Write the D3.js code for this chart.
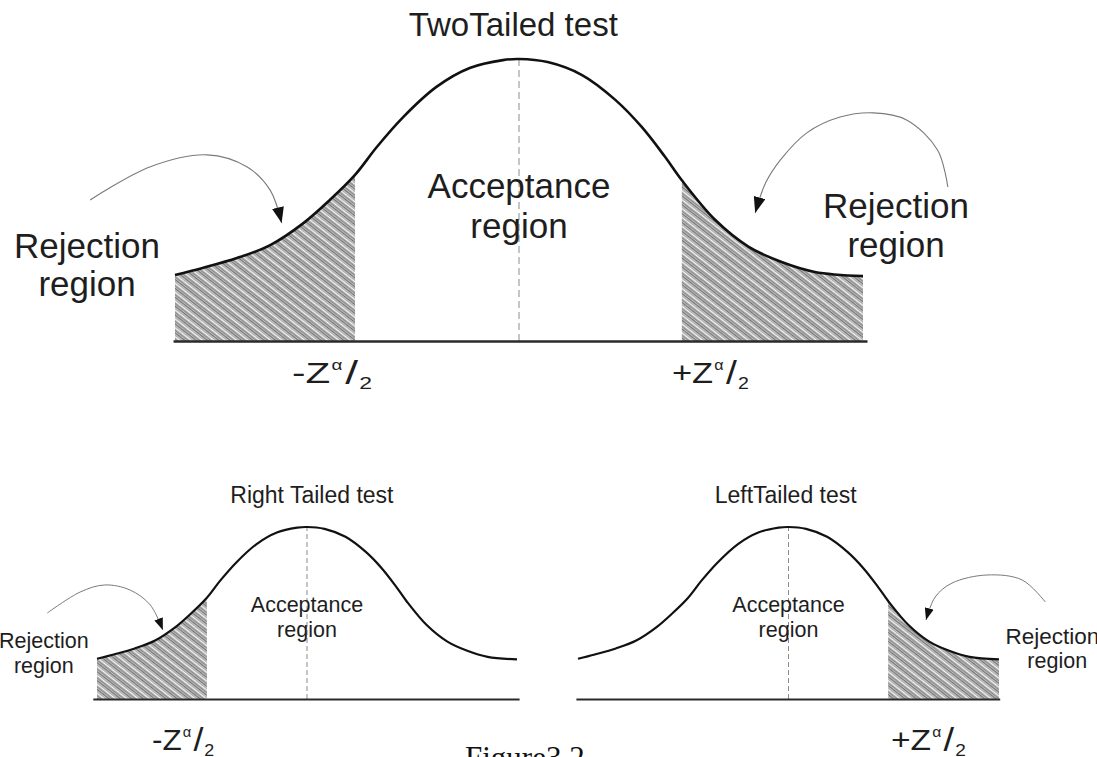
<!DOCTYPE html>
<html>
<head>
<meta charset="utf-8">
<script src="https://cdn.jsdelivr.net/npm/d3@7"></script>
<style>
  body { margin: 0; background: #fff; }
  svg { display: block; font-family: "Liberation Sans", Arial, sans-serif; }
</style>
</head>
<body>
<svg id="fig" width="1097" height="757"></svg>
<script>
// normal curve: z in sigma units, height relative to the peak
const curveZ = [-3.00, -2.76, -2.46, -2.17, -1.88, -1.65, -1.43, -1.24, -1.01, -0.72, -0.43, -0.14, 0,
                0.25, 0.55, 0.84, 1.07, 1.27, 1.42, 1.71, 2.00, 2.29, 2.58, 3.00];
const curveH = [0.234, 0.259, 0.294, 0.340, 0.418, 0.500, 0.589, 0.688, 0.794, 0.901, 0.968, 0.996, 1,
                0.989, 0.943, 0.855, 0.759, 0.655, 0.570, 0.430, 0.335, 0.280, 0.245, 0.230];

// critical values bounding the rejection regions
const leftTail = [-3.00, -1.43];
const rightTail = [1.42, 3.00];

const panelTitles = ["TwoTailed test", "Right Tailed test", "LeftTailed test"];
const panelTails = [["left", "right"], ["left"], ["right"]];
const acceptText = ["Acceptance", "region"];
const rejectText = ["Rejection", "region"];
const captionText = "Figure3.2";

// hand-drawn arrows (z, h of each panel)
const arrowTopLeftZ = [-3.74, -3.22, -2.72, -2.37, -2.17, -2.07];
const arrowTopLeftH = [0.500, 0.617, 0.660, 0.617, 0.535, 0.418];
const arrowTopRightZ = [3.74, 3.65, 3.38, 3.09, 2.80, 2.51, 2.28, 2.15, 2.06];
const arrowTopRightH = [0.546, 0.677, 0.784, 0.809, 0.794, 0.738, 0.642, 0.560, 0.454];
const arrowSmallLeftZ = [-3.71, -3.24, -2.89, -2.53, -2.24, -2.06];
const arrowSmallLeftH = [0.500, 0.622, 0.663, 0.634, 0.547, 0.401];
const arrowSmallRightZ = [3.66, 3.33, 2.83, 2.33, 2.09, 1.96];
const arrowSmallRightH = [0.564, 0.692, 0.721, 0.674, 0.593, 0.459];

const curvePts = curveZ.map((z, i) => ({ z, h: curveH[i] }));
const zip = (zs, hs) => zs.map((z, i) => ({ z, h: hs[i] }));

// panel layout
const layout = [
  {
    xr: [175, 863], yr: [341, 59], base: [-3.017, 3.035],
    curveW: 2.6, baseW: 2.4, dash: "7,4", head: "headL", arrowW: 1.1,
    titleFs: 33, title: { z: -0.05, h: 1.082 },
    accept: { z: [0, 0], h: [0.507, 0.365], fs: [35, 35] },
    reject: {
      left: { z: [-3.767, -3.767], h: [0.294, 0.160], fs: [35, 35] },
      right: { z: [3.288, 3.288], h: [0.436, 0.298], fs: [35, 35] }
    },
    zlab: { left: { z: -1.98, h: -0.149, sx: 1.35 }, right: { z: 1.334, h: -0.149, sx: 1.15 } },
    arrows: { left: zip(arrowTopLeftZ, arrowTopLeftH), right: zip(arrowTopRightZ, arrowTopRightH) }
  },
  {
    xr: [97, 517], yr: [699, 527], base: [-3.06, 3.03],
    curveW: 2.2, baseW: 2, dash: "5,3", head: "headS", arrowW: 1,
    titleFs: 23, title: { z: 0.07, h: 1.14 },
    accept: { z: [0, 0], h: [0.506, 0.360], fs: [21.5, 21.5] },
    reject: { left: { z: [-3.76, -3.76], h: [0.297, 0.151], fs: [21.5, 21.5] } },
    zlab: { left: { z: -2.214, h: -0.297, sx: 1.05 } },
    arrows: { left: zip(arrowSmallLeftZ, arrowSmallLeftH) }
  },
  {
    xr: [578, 999], yr: [699, 527], base: [-3.03, 3.01],
    curveW: 2.2, baseW: 2, dash: "5,3", head: "headS", arrowW: 1,
    titleFs: 23, title: { z: -0.04, h: 1.14 },
    accept: { z: [0, 0], h: [0.506, 0.360], fs: [21.5, 21.5] },
    reject: { right: { z: [3.76, 3.83], h: [0.320, 0.180], fs: [22.5, 21.5] } },
    zlab: { right: { z: 1.46, h: -0.297, sx: 1.12 } },
    arrows: { right: zip(arrowSmallRightZ, arrowSmallRightH) }
  }
];

const svg = d3.select("#fig");
const defs = svg.append("defs");

// hatching for the rejection regions
const hatch = defs.append("pattern")
  .attr("id", "hatch")
  .attr("patternUnits", "userSpaceOnUse")
  .attr("width", 8).attr("height", 7)
  .attr("patternTransform", "rotate(38)");
hatch.append("rect").attr("width", 8).attr("height", 7).attr("fill", "#cdcdcd");
[[0.5, "#555", 0.75], [2.2, "#8f8f8f", 0.7], [3.6, "#ffffff", 0.9], [5.2, "#4a4a4a", 0.75], [6.3, "#a0a0a0", 0.5]]
  .forEach(([yy, c, w]) => hatch.append("line")
    .attr("x1", 0).attr("x2", 8).attr("y1", yy).attr("y2", yy)
    .attr("stroke", c).attr("stroke-width", w));

// arrow heads
[["headL", 16, 12], ["headS", 12, 9]].forEach(([id, w, h]) => {
  defs.append("marker")
    .attr("id", id)
    .attr("viewBox", "0 0 16 12")
    .attr("markerUnits", "userSpaceOnUse")
    .attr("markerWidth", w).attr("markerHeight", h)
    .attr("refX", 16).attr("refY", 6)
    .attr("orient", "auto")
    .append("path").attr("d", "M0,0 L16,6 L0,12 Z").attr("fill", "#111");
});

layout.forEach((L, pi) => {
  const x = d3.scaleLinear().domain([-3, 3]).range(L.xr);
  const y = d3.scaleLinear().domain([0, 1]).range(L.yr);
  const g = svg.append("g");

  const smooth = d3.curveCatmullRom.alpha(0.5);
  const area = d3.area().x(d => x(d.z)).y0(y(0)).y1(d => y(d.h)).curve(smooth);
  const line = d3.line().x(d => x(d.z)).y(d => y(d.h)).curve(smooth);

  // shaded tails
  panelTails[pi].forEach(side => {
    const t = side === "left" ? leftTail : rightTail;
    const cid = `clip${pi}${side}`;
    defs.append("clipPath").attr("id", cid)
      .append("rect")
      .attr("x", x(t[0])).attr("width", x(t[1]) - x(t[0]))
      .attr("y", y(1.1)).attr("height", y(0) - y(1.1));
    g.append("path")
      .datum(curvePts)
      .attr("d", area)
      .attr("fill", "url(#hatch)")
      .attr("clip-path", `url(#${cid})`);
  });

  // centre line
  g.append("line")
    .attr("x1", x(0)).attr("x2", x(0))
    .attr("y1", y(0)).attr("y2", y(1))
    .attr("stroke", "#8c8c8c").attr("stroke-width", 1)
    .attr("stroke-dasharray", L.dash);

  // the curve
  g.append("path")
    .datum(curvePts)
    .attr("d", line)
    .attr("fill", "none")
    .attr("stroke", "#111")
    .attr("stroke-width", L.curveW);

  // baseline as a bare axis
  const xb = d3.scaleLinear().domain(L.base).range(L.base.map(x));
  const ax = g.append("g")
    .attr("transform", `translate(0,${y(0)})`)
    .call(d3.axisBottom(xb).tickValues([]).tickSizeOuter(0));
  ax.select(".domain").attr("stroke", "#2a2a2a").attr("stroke-width", L.baseW);

  // title
  g.append("text")
    .attr("x", x(L.title.z)).attr("y", y(L.title.h))
    .attr("text-anchor", "middle")
    .attr("font-size", L.titleFs)
    .attr("fill", "#1e1e1e")
    .text(panelTitles[pi]);

  // two-line labels
  const twoLine = (pos, words) => {
    words.forEach((w, i) => g.append("text")
      .attr("x", x(pos.z[i])).attr("y", y(pos.h[i]))
      .attr("text-anchor", "middle")
      .attr("font-size", pos.fs[i])
      .attr("fill", "#1e1e1e")
      .text(w));
  };
  twoLine(L.accept, acceptText);
  Object.values(L.reject).forEach(pos => twoLine(pos, rejectText));

  // critical value labels  ±Z α/2
  Object.entries(L.zlab).forEach(([side, pos]) => {
    const t = g.append("g")
      .attr("transform", `translate(${x(pos.z)},${y(pos.h)}) scale(${pos.sx},1)`)
      .append("text")
      .attr("font-size", 30)
      .attr("fill", "#1e1e1e");
    t.append("tspan").text((side === "left" ? "-" : "+") + "Z");
    t.append("tspan").attr("font-size", 14).attr("dy", -13).attr("dx", 1).text("α");
    t.append("tspan").attr("font-size", 34).attr("font-weight", 300).attr("dy", 14).attr("dx", 2).text("/");
    t.append("tspan").attr("font-size", 17).attr("dy", 5).attr("dx", 1).text("2");
  });

  // arrows pointing at the rejection regions
  const arrowLine = d3.line().x(d => x(d.z)).y(d => y(d.h)).curve(d3.curveCatmullRom.alpha(0.5));
  Object.values(L.arrows).forEach(pts => {
    g.append("path")
      .datum(pts)
      .attr("d", arrowLine)
      .attr("fill", "none")
      .attr("stroke", "#7a7a7a")
      .attr("stroke-width", L.arrowW)
      .attr("marker-end", `url(#${L.head})`);
  });
});

// caption, cut off at the bottom of the page as in the source
svg.append("text")
  .attr("x", 465).attr("y", 768)
  .attr("font-family", "'Liberation Serif', 'Times New Roman', serif")
  .attr("font-size", 31)
  .attr("fill", "#111")
  .text(captionText);
</script>
</body>
</html>
